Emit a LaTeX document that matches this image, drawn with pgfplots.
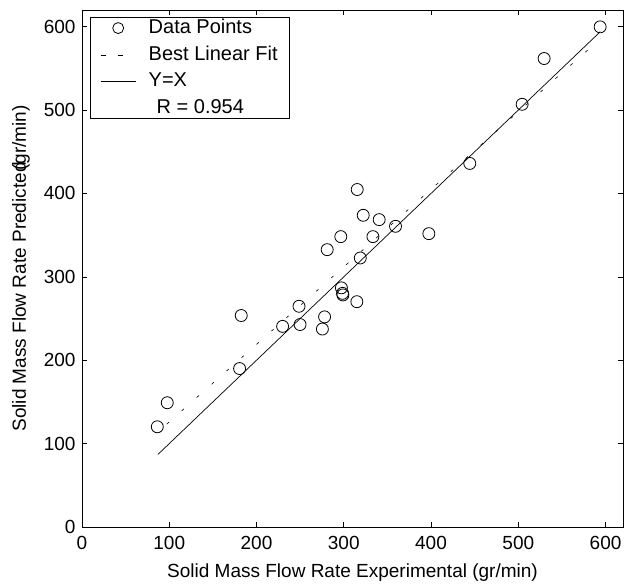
\documentclass[border=0pt]{standalone}
\usepackage{pgfplots}
\pgfplotsset{compat=1.18}
\usepackage{fontspec}
\setmainfont{Liberation Sans}
\begin{document}
\fontsize{19}{23}\selectfont
\begin{tikzpicture}
\begin{axis}[
  scale only axis,
  width=541pt, height=517pt,
  xmin=0, xmax=620, ymin=0, ymax=620,
  xtick={0,100,...,600}, ytick={0,100,...,600},
  tick align=inside,
  major tick length=5pt,
  tick style={black, line width=0.6pt},
  axis line style={line width=0.9pt},
  /pgf/number format/assume math mode=true,
  ticklabel style={font=\fontsize{19}{23}\selectfont},
  xticklabel style={yshift=-3pt},
  xlabel={Solid Mass Flow Rate Experimental (gr/min)},
  ylabel={Solid Mass Flow Rate Predicted\kern-0.45em(gr/min)},
  xlabel style={at={(axis description cs:0.5,-0.088)}, anchor=center, font=\fontsize{19}{23}\selectfont},
  ylabel style={at={(axis description cs:-0.113,0.5)}, anchor=center, font=\fontsize{19}{23}\selectfont},
  legend cell align=left,
  legend style={at={(0,1)}, anchor=north west, xshift=8pt, yshift=-7pt,
    draw=black, line width=0.8pt, font=\fontsize{20}{24}\selectfont,
    inner xsep=10pt, inner ysep=0pt, row sep=5.5pt,
    nodes={inner sep=2pt}},
]
\addplot[only marks, mark=o, mark size=6pt, mark options={line width=0.8pt}, black,
  legend image code/.code={\path[draw=none] (0pt,-1pt) rectangle (46pt,1pt); \draw[solid, black, line width=0.8pt] (17.5pt,0pt) circle (5.5pt);}] coordinates {
(86.3,120.2) (97.7,149) (182.5,253.6) (180.6,190) (229.9,240.6)
(248.7,264.7) (249.9,242.8) (278.0,252.0) (275.5,237.4) (297.3,286.8)
(298.6,280.2) (299.0,278.3) (315.0,270.2) (315.4,404.7) (322.3,373.8)
(340.6,368.6) (359.3,360.6) (296.6,348.2) (333.4,348.2) (397.5,351.8)
(281.0,332.6) (318.9,322.6) (444.4,436.0) (504.4,506.9) (529.6,561.8)
(593.8,599.8)
};
\addlegendentry{Data Points}
\addplot[black, line width=0.6pt, dash pattern=on 3pt off 17pt, dash phase=-13pt,
  legend image code/.code={\path[draw=none] (0pt,-1pt) rectangle (46pt,1pt); \draw[solid, black, line width=0.6pt] (0pt,0pt)--(5pt,0pt) (17pt,0pt)--(22pt,0pt);}] coordinates {
(86,113) (594,585.4)
};
\addlegendentry{Best Linear Fit}
\addplot[black, line width=0.7pt,
  legend image code/.code={\path[draw=none] (0pt,-1pt) rectangle (46pt,1pt); \draw[solid, black, line width=0.6pt] (0pt,0pt)--(35pt,0pt);}] coordinates {
(87,87) (594,594)
};
\addlegendentry{Y=X}
\addlegendimage{empty legend}
\addlegendentry{\hspace{0.4em}R = 0.954}
\end{axis}
\pgfresetboundingbox
\path ([shift={(-82pt,-58pt)}]current axis.south west) rectangle ([shift={(8pt,10pt)}]current axis.north east);
\end{tikzpicture}
\end{document}
